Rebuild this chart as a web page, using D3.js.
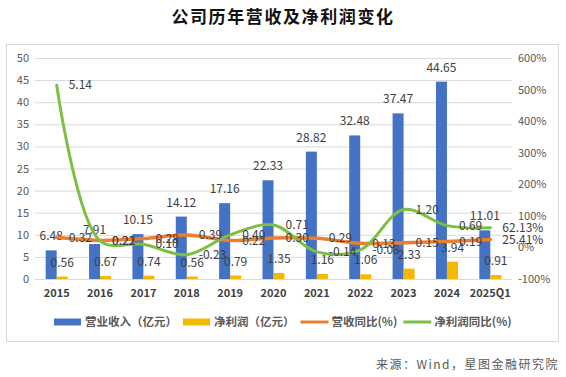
<!DOCTYPE html>
<html>
<head>
<meta charset="utf-8">
<script src="https://cdn.jsdelivr.net/npm/d3@7"></script>
<style>
  body { margin: 0; background: #fff; }
  text { font-family: "Noto Sans CJK SC", "Noto Sans", sans-serif; }
</style>
</head>
<body>
<div id="chart"></div>
<script>
// data ------
var categories = ['2015', '2016', '2017', '2018', '2019', '2020', '2021', '2022', '2023', '2024', '2025Q1'];
var revenue = [6.48, 7.91, 10.15, 14.12, 17.16, 22.33, 28.82, 32.48, 37.47, 44.65, 11.01];
var netProfit = [0.56, 0.67, 0.74, 0.56, 0.79, 1.35, 1.16, 1.06, 2.33, 3.94, 0.91];
var revenueYoY = [0.32, 0.22, 0.28, 0.39, 0.22, 0.30, 0.29, 0.13, 0.15, 0.19, 0.2541];
var profitYoY = [5.14, 0.21, 0.10, -0.23, 0.40, 0.71, -0.14, -0.08, 1.20, 0.69, 0.6213];
var leftTicks = [0, 5, 10, 15, 20, 25, 30, 35, 40, 45, 50];
var rightTicks = [-100, 0, 100, 200, 300, 400, 500, 600];

var width = 566, height = 377;
var plot = { left: 35, right: 512, top: 58, bottom: 279 };

var svg = d3.select('#chart').append('svg')
  .attr('width', width)
  .attr('height', height);

// frame
svg.append('rect')
  .attr('x', 6.5).attr('y', 44.5)
  .attr('width', 552).attr('height', 297)
  .attr('fill', 'none').attr('stroke', '#d9d9d9');

// title
svg.append('text')
  .attr('x', 283).attr('y', 23)
  .attr('text-anchor', 'middle')
  .style('font-size', '17px').style('font-weight', 'bold')
  .style('letter-spacing', '1.6px')
  .attr('fill', '#111')
  .text('公司历年营收及净利润变化');

// scales
var x = d3.scaleBand().domain(categories).range([plot.left, plot.right]);
var half = 11;
var xSub = d3.scaleBand().domain(['rev', 'np'])
  .range([x.bandwidth() / 2 - half, x.bandwidth() / 2 + half]);
var y = d3.scaleLinear().domain([0, 50]).range([plot.bottom, plot.top]);
var y2 = d3.scaleLinear().domain([-100, 600]).range([plot.bottom, plot.top]);

// grid
svg.append('g')
  .attr('transform', 'translate(' + plot.left + ',0)')
  .call(d3.axisLeft(y).tickValues(leftTicks).tickSize(-(plot.right - plot.left)).tickFormat(''))
  .call(g => g.select('.domain').remove())
  .call(g => g.selectAll('line').attr('stroke', '#d9d9d9'));

// left axis
svg.append('g')
  .attr('transform', 'translate(' + plot.left + ',0)')
  .call(d3.axisLeft(y).tickValues(leftTicks).tickSize(0).tickPadding(6))
  .call(g => g.select('.domain').remove())
  .call(g => g.selectAll('text').attr('fill', '#595959').style('font-size', '11px'));

// right axis
svg.append('g')
  .attr('transform', 'translate(' + plot.right + ',0)')
  .call(d3.axisRight(y2).tickValues(rightTicks).tickSize(0).tickPadding(6).tickFormat(d => d + '%'))
  .call(g => g.select('.domain').remove())
  .call(g => g.selectAll('text').attr('fill', '#595959').style('font-size', '11px'));

// x axis
svg.append('g')
  .attr('transform', 'translate(0,' + plot.bottom + ')')
  .call(d3.axisBottom(x).tickSize(0).tickPadding(10))
  .call(g => g.select('.domain').remove())
  .call(g => g.selectAll('text').attr('fill', '#404040').style('font-size', '11px').style('font-weight', 'bold'));

// bars
var rows = categories.map((c, i) => ({ c: c, rev: revenue[i], np: netProfit[i], ry: revenueYoY[i], py: profitYoY[i], i: i }));
var colors = { rev: '#4472c4', np: '#f5b800', ry: '#ed7d31', py: '#7cbf42' };

['rev', 'np'].forEach(function (k) {
  svg.append('g').selectAll('rect')
    .data(rows).join('rect')
    .attr('x', d => x(d.c) + xSub(k))
    .attr('width', xSub.bandwidth())
    .attr('y', d => y(d[k]))
    .attr('height', d => y(0) - y(d[k]))
    .attr('fill', colors[k]);

  svg.append('g').selectAll('text')
    .data(rows).join('text')
    .attr('x', d => x(d.c) + xSub(k) + xSub.bandwidth() / 2)
    .attr('y', d => y(d[k]) - 10)
    .attr('text-anchor', 'middle')
    .attr('fill', '#404040')
    .style('font-size', '12px')
    .text(d => d[k].toFixed(2));
});

// lines
var cx = d => x(d.c) + x.bandwidth() / 2;
[['ry', 3.5], ['py', 3]].forEach(function (s) {
  var k = s[0];
  var line = d3.line()
    .x(cx)
    .y(d => y2(d[k] * 100))
    .curve(d3.curveCatmullRom.alpha(0.5));
  svg.append('path')
    .datum(rows)
    .attr('d', line)
    .attr('fill', 'none')
    .attr('stroke', colors[k])
    .attr('stroke-width', s[1])
    .attr('stroke-linecap', 'round');
});

['ry', 'py'].forEach(function (k) {
  svg.append('g').selectAll('text')
    .data(rows).join('text')
    .attr('x', d => cx(d) + 12)
    .attr('y', d => y2(d[k] * 100))
    .attr('dy', '0.35em')
    .attr('fill', '#404040')
    .style('font-size', '12px')
    .text(d => d.i === categories.length - 1 ? (d[k] * 100).toFixed(2) + '%' : d[k].toFixed(2));
});

// legend
var legendItems = [
  { name: '营业收入（亿元）', k: 'rev', type: 'rect' },
  { name: '净利润（亿元）', k: 'np', type: 'rect' },
  { name: '营收同比(%)', k: 'ry', type: 'line' },
  { name: '净利润同比(%)', k: 'py', type: 'line' }
];
var lx = 54, ly = 322;
legendItems.forEach(function (it) {
  if (it.type === 'rect') {
    svg.append('rect').attr('x', lx).attr('y', ly - 3.5).attr('width', 27).attr('height', 7).attr('fill', colors[it.k]);
  } else {
    svg.append('line').attr('x1', lx).attr('x2', lx + 28).attr('y1', ly).attr('y2', ly)
      .attr('stroke', colors[it.k]).attr('stroke-width', 3);
  }
  var t = svg.append('text')
    .attr('x', lx + 31).attr('y', ly).attr('dy', '0.35em')
    .attr('fill', '#595959')
    .style('font-size', '11.5px').style('font-weight', 'bold')
    .text(it.name);
  lx += 31 + t.node().getComputedTextLength() + 6;
});

// source
svg.append('text')
  .attr('x', 559).attr('y', 369)
  .attr('text-anchor', 'end')
  .attr('fill', '#595959')
  .style('font-size', '12px')
  .style('letter-spacing', '1.5px')
  .text('来源：Wind，星图金融研究院');
</script>
</body>
</html>
